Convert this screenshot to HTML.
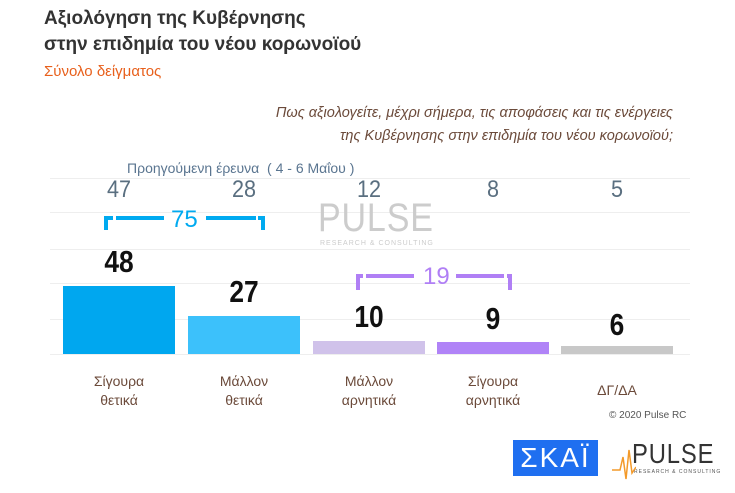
<!DOCTYPE html>
<html><head><meta charset="utf-8"><style>
body{margin:0;width:735px;height:493px;background:#fff;font-family:"Liberation Sans","DejaVu Sans",sans-serif;position:relative;overflow:hidden}
.a{position:absolute;white-space:nowrap}
.t{left:44px;font-size:19px;font-weight:bold;color:#333}
.g{position:absolute;left:50px;width:640px;height:1px;background:#eee}
.bar{position:absolute;bottom:139px;width:112px}
.v{position:absolute;font-size:31px;font-weight:bold;color:#111;text-align:center;width:112px;transform:scaleX(.85)}
.p{position:absolute;top:176px;font-size:24px;color:#5a6f80;text-align:center;width:112px;transform:scaleX(.9)}
.c{position:absolute;top:372px;font-size:14px;color:#6b4a3a;text-align:center;width:112px;line-height:19px}
</style></head><body>
<div class="a t" style="top:8px">Αξιολόγηση της Κυβέρνησης</div>
<div class="a t" style="top:34px">στην επιδημία του νέου κορωνοϊού</div>
<div class="a" style="left:44px;top:63px;font-size:15px;color:#e8601c">Σύνολο δείγματος</div>
<div class="a" style="right:62px;top:102px;font-size:14.5px;font-style:italic;color:#6b4a3a;text-align:right;line-height:23px">Πως αξιολογείτε, μέχρι σήμερα, τις αποφάσεις και τις ενέργειες<br>της Κυβέρνησης στην επιδημία του νέου κορωνοϊού;</div>
<div class="a" style="left:127px;top:160px;font-size:14px;color:#5a7590">Προηγούμενη έρευνα &nbsp;( 4 - 6 Μαΐου )</div>
<div class="g" style="top:178px"></div><div class="g" style="top:212px"></div><div class="g" style="top:249px"></div><div class="g" style="top:283px"></div><div class="g" style="top:319px"></div><div class="g" style="top:354px"></div>
<div class="a" style="left:318px;top:196px;font-size:40px;color:#ccc;letter-spacing:1px;transform:scaleX(.85);transform-origin:left">PULSE</div>
<div class="a" style="left:320px;top:240px;font-size:7px;color:#ccc;letter-spacing:1px">RESEARCH &amp; CONSULTING</div>
<div class="p" style="left:63px">47</div><div class="p" style="left:188px">28</div><div class="p" style="left:313px">12</div><div class="p" style="left:437px">8</div><div class="p" style="left:561px">5</div>
<svg class="a" style="left:0;top:0" width="735" height="493">
<path d="M106 230 V218 H113 M116 218 H164 M206 218 H256 M258 218 H263 V230" stroke="#00aaf0" stroke-width="4" fill="none"/>
<path d="M358 290 V276 H363 M366 276 H414 M456 276 H504 M507 276 H510 V290" stroke="#b07ff5" stroke-width="4" fill="none"/>
</svg>
<div class="a" style="left:171px;top:206px;font-size:24px;color:#00aaf0">75</div>
<div class="a" style="left:423px;top:263px;font-size:24px;color:#b07ff5">19</div>
<div class="bar" style="left:63px;height:68px;background:#00a7ef"></div>
<div class="bar" style="left:188px;height:38px;background:#3cc1fb"></div>
<div class="bar" style="left:313px;height:13px;background:#d0c2ea"></div>
<div class="bar" style="left:437px;height:12px;background:#b083f7"></div>
<div class="bar" style="left:561px;height:8px;background:#c8c8c8"></div>
<div class="v" style="left:63px;top:244px">48</div>
<div class="v" style="left:188px;top:274px">27</div>
<div class="v" style="left:313px;top:299px">10</div>
<div class="v" style="left:437px;top:301px">9</div>
<div class="v" style="left:561px;top:307px">6</div>
<div class="c" style="left:63px">Σίγουρα<br>θετικά</div>
<div class="c" style="left:188px">Μάλλον<br>θετικά</div>
<div class="c" style="left:313px">Μάλλον<br>αρνητικά</div>
<div class="c" style="left:437px">Σίγουρα<br>αρνητικά</div>
<div class="c" style="left:561px;top:381px">ΔΓ/ΔΑ</div>
<div class="a" style="left:609px;top:410px;font-size:10px;color:#555">© 2020 Pulse RC</div>
<div class="a" style="left:513px;top:440px;width:85px;height:36px;background:#1f6ff0;color:#fff;font-size:28px;text-align:center;line-height:36px;letter-spacing:2px">ΣΚΑΪ</div>
<div class="a" style="left:632px;top:438px;font-size:28px;color:#333;letter-spacing:1px;transform:scaleX(.85);transform-origin:left">PULSE</div>
<div class="a" style="left:634px;top:469px;font-size:5px;color:#555;letter-spacing:1px">RESEARCH &amp; CONSULTING</div>
<svg class="a" style="left:612px;top:445px" width="24" height="36"><path d="M0 25 H8 L11 12 L14 34 L17 5 L20 28 L24 22" stroke="#f39a2a" stroke-width="1.5" fill="none"/></svg>
</body></html>
